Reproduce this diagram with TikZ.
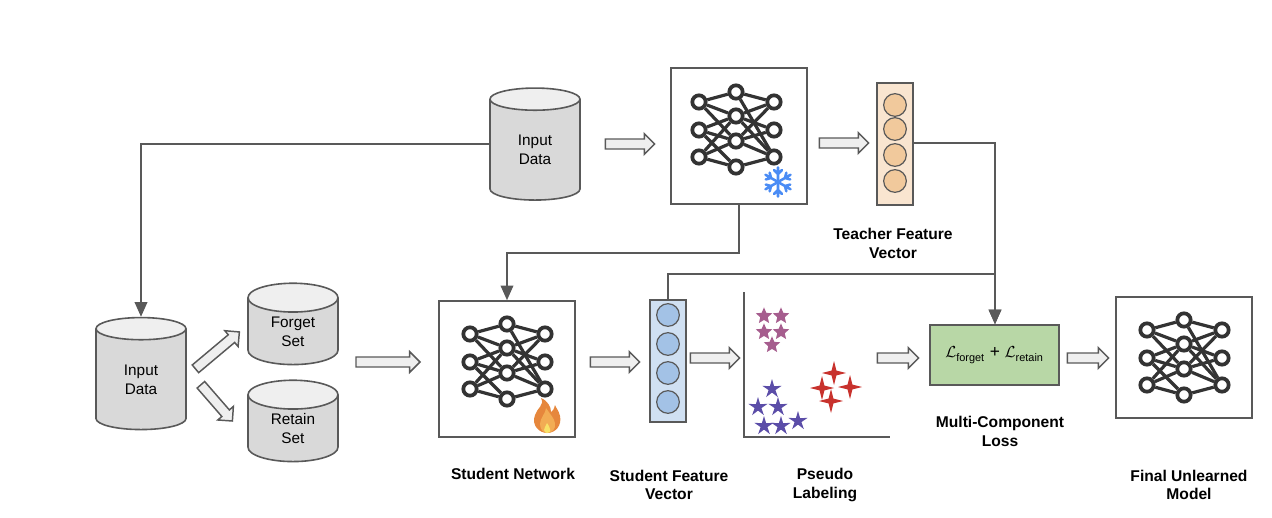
\documentclass[tikz,border=0pt]{standalone}
\usepackage{fontspec}
\setmainfont{Liberation Sans}
\usepackage{tikz}
\usepackage{xcolor}
\usetikzlibrary{shapes.geometric, shapes.arrows, arrows.meta, positioning}
\definecolor{linegray}{RGB}{89, 89, 89}
\definecolor{netdark}{RGB}{51, 51, 51}
\definecolor{dbbody}{RGB}{217, 217, 217}
\definecolor{dbtop}{RGB}{239, 239, 239}
\definecolor{teacherfill}{RGB}{249, 229, 208}
\definecolor{teacherdot}{RGB}{241, 201, 156}
\definecolor{studentfill}{RGB}{208, 224, 242}
\definecolor{studentdot}{RGB}{163, 194, 230}
\definecolor{lossfill}{RGB}{184, 215, 166}
\definecolor{frost}{RGB}{74, 140, 245}
\definecolor{starpink}{RGB}{166, 93, 142}
\definecolor{starblue}{RGB}{91, 77, 168}
\definecolor{starred}{RGB}{200, 50, 45}
\definecolor{flameouter}{RGB}{230, 135, 60}
\definecolor{flameinner}{RGB}{242, 172, 84}
\definecolor{flamecore}{RGB}{248, 226, 104}

\begin{document}
\begin{tikzpicture}[
    x=0.75pt, y=-0.75pt,
    database/.style={cylinder, shape border rotate=90, aspect=0.65, draw=linegray, line width=1.2pt,
                 cylinder uses custom fill, cylinder body fill=dbbody, cylinder end fill=dbtop,
                 minimum width=67.5pt, align=center, font=\fontsize{11.5}{14}\selectfont, inner sep=0pt},
    netbox/.style={rectangle, draw=linegray, line width=1.2pt, fill=white, minimum width=102pt, minimum height=102pt},
    vecbox/.style={rectangle, draw=linegray, line width=1.2pt, minimum width=27pt, minimum height=91.5pt},
    vecdot/.style={circle, draw=linegray, line width=0.9pt, minimum size=17pt, inner sep=0pt},
    neuron/.style={circle, draw=netdark, line width=2.8pt, fill=white, minimum size=10pt, inner sep=0pt},
    blockarrow/.style={single arrow, draw=linegray, line width=1.1pt, fill=dbtop, inner sep=3.2pt,
                 single arrow head extend=4pt, single arrow head indent=0pt},
    link/.style={-{Triangle[length=11pt, width=9.5pt]}, draw=linegray, line width=1.2pt},
    caption/.style={font=\fontsize{11.7}{14}\selectfont\bfseries, align=center},
    pinkstar/.style={star, star points=5, star point ratio=2.2, fill=starpink, draw=none, minimum size=13pt, inner sep=0pt},
    bluestar/.style={star, star points=5, star point ratio=2.8, fill=starblue, draw=none, minimum size=15pt, inner sep=0pt},
    redstar/.style={star, star points=4, star point ratio=3.5, fill=starred, draw=none, minimum size=18pt, inner sep=0pt},
    nnet/.pic={
        \foreach \i/\yy in {1/-27, 2/1, 3/28} {
            \node[neuron] (-l\i) at (-37, \yy) {};
            \node[neuron] (-r\i) at (38, \yy) {};
        }
        \foreach \j/\yy in {1/-37, 2/-13, 3/12, 4/38} {
            \node[neuron] (-m\j) at (0, \yy) {};
        }
        \foreach \a/\b in {l1/m1, l1/m2, l1/m3, l2/m2, l2/m3, l2/m4, l3/m2, l3/m3, l3/m4,
                           m1/r1, m1/r3, m2/r1, m2/r2, m2/r3, m3/r1, m3/r2, m3/r3, m4/r3} {
            \draw[netdark, line width=2.4pt] (-\a) -- (-\b);
        }
    }
]
\useasboundingbox (0,0) rectangle (1272,518);

% Databases
\node[database, minimum height=84pt] (inputtop) at (535, 150) {Input\\Data};
\node[database, minimum height=84pt] (inputbot) at (141, 379.5) {Input\\Data};
\node[database, minimum height=61pt] (forget) at (293, 331.5) {Forget\\Set};
\node[database, minimum height=61pt] (retain) at (293, 428.5) {Retain\\Set};

% Networks
\node[netbox] (teacherbox) at (739, 136) {};
\pic (teachernet) at (736, 129) {nnet};
\node[netbox] (studentbox) at (507, 369) {};
\pic (studentnet) at (507, 361) {nnet};
\node[rectangle, draw=linegray, line width=1.2pt, minimum width=102pt, minimum height=91pt] (finalbox) at (1184, 357.5) {};
\pic (finalnet) at (1184, 357) {nnet};

% Feature vectors
\node[vecbox, fill=teacherfill] (teachervec) at (895, 144) {};
\foreach \i/\yy in {1/105, 2/129, 3/155, 4/181} {
    \node[vecdot, fill=teacherdot] (tdot\i) at (895, \yy) {};
}
\node[vecbox, fill=studentfill] (studentvec) at (668, 361) {};
\foreach \i/\yy in {1/315, 2/344, 3/373, 4/402} {
    \node[vecdot, fill=studentdot] (sdot\i) at (668, \yy) {};
}

% Loss
\node[rectangle, draw=linegray, line width=1.2pt, fill=lossfill, minimum width=97pt, minimum height=45pt,
      font=\fontsize{13}{15}\selectfont] (loss) at (994.5, 355)
      {$\mathcal{L}_{\raisebox{-1pt}{\fontsize{8.2}{9}\selectfont forget}}$ + $\mathcal{L}_{\raisebox{-1pt}{\fontsize{8.2}{9}\selectfont retain}}$};

% Block arrows
\node[blockarrow, minimum height=37pt] (arr1) at (627.5, 144) {};
\node[blockarrow, minimum height=37pt] (arr2) at (841.5, 143) {};
\node[blockarrow, minimum height=48pt] (arr3) at (385.5, 362) {};
\node[blockarrow, minimum height=37pt] (arr4) at (612.5, 362) {};
\node[blockarrow, minimum height=37pt] (arr5) at (712.5, 358) {};
\node[blockarrow, minimum height=31pt] (arr6) at (895.5, 358) {};
\node[blockarrow, minimum height=31pt] (arr7) at (1085.5, 358) {};
\node[blockarrow, minimum height=43pt, rotate=40] (arr8) at (215.5, 352) {};
\node[blockarrow, minimum height=36pt, rotate=-49] (arr9) at (215, 401) {};

% Connectors
\draw[link] (inputtop.west |- 0,144) -- (141,144) -- (inputbot.north);
\draw[link] (teacherbox.south) -- (739,253) -- (507,253) -- (studentbox.north);
\draw[link] (teachervec.east |- 0,143) -- (995,143) -- (loss.north -| 995,0);
\draw[link] (studentvec.north) -- (668,274) -- (995,274) -- (loss.north -| 995,0);

% Scatter plot
\coordinate (axistop) at (744,292);
\coordinate (axisorigin) at (744,437);
\coordinate (axisright) at (890,437);
\draw[linegray, line width=1.2pt] (axistop) -- (axisorigin) -- (axisright);
\foreach \i/\xx/\yy in {1/764/316, 2/781/316, 3/764/332, 4/781/332, 5/772/345} {
    \node[pinkstar] (pink\i) at (\xx, \yy) {};
}
\foreach \i/\xx/\yy in {1/772/389, 2/758/407, 3/778/407, 4/764/426, 5/781/426, 6/798/421} {
    \node[bluestar] (blue\i) at (\xx, \yy) {};
}
\foreach \i/\xx/\yy in {1/834/373, 2/822/388, 3/850/387, 4/831/401} {
    \node[redstar] (red\i) at (\xx, \yy) {};
}

% Snowflake
\foreach \a in {90,150,...,420} {
    \draw[frost, line width=1.9pt, line cap=round] (778,182) -- ++(\a:14.5)
        (778,182) ++(\a:8) -- ++(\a+45:5.5)
        (778,182) ++(\a:8) -- ++(\a-45:5.5);
}

% Flame
\fill[flameouter] (541,398) .. controls (545,405) and (537,408) .. (535,415)
    .. controls (531,426) and (540,433) .. (547,433)
    .. controls (556,433) and (562,425) .. (560,416)
    .. controls (559,411) and (556,408) .. (555,405)
    .. controls (554,409) and (553,411) .. (551,412)
    .. controls (551,407) and (548,401) .. (541,398) -- cycle;
\fill[flameinner] (546,408) .. controls (546,413) and (540,418) .. (540,424)
    .. controls (540,430) and (544,433) .. (547,433)
    .. controls (552,433) and (556,429) .. (555,423)
    .. controls (554,418) and (550,414) .. (546,408) -- cycle;
\fill[flamecore] (547,423) .. controls (546,426) and (544,428) .. (544,430)
    .. controls (544,432) and (546,433) .. (547,433)
    .. controls (549,433) and (551,432) .. (550,429)
    .. controls (550,427) and (548,425) .. (547,423) -- cycle;

% Captions
\node[caption] (teachercap) at (893, 243.5) {Teacher Feature\\Vector};
\node[caption] (studentcap) at (513, 474) {Student Network};
\node[caption] (studentveccap) at (669, 485) {Student Feature\\Vector};
\node[caption] (pseudocap) at (825, 485) {Pseudo\\Labeling};
\node[caption] (losscap) at (1000, 431.5) {Multi-Component\\Loss};
\node[caption] (finalcap) at (1189, 485) {Final Unlearned\\Model};

\end{tikzpicture}
\end{document}
